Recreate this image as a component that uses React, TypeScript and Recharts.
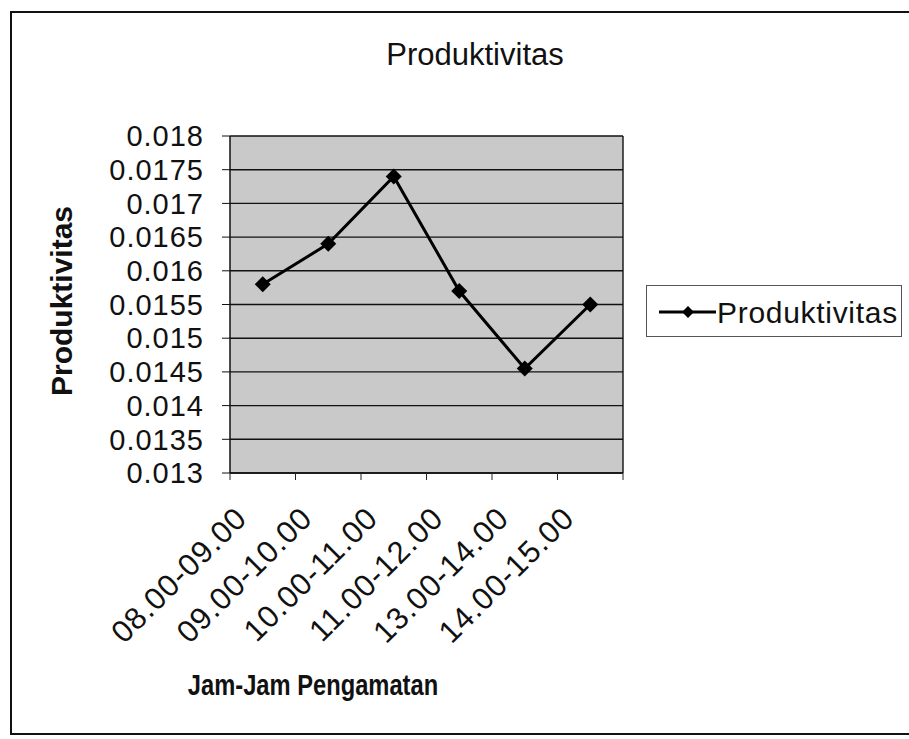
import React from 'react';
import { LineChart, Line, XAxis, YAxis, CartesianGrid } from 'recharts';

// Productivity per observation hour
const categories = ['08.00-09.00', '09.00-10.00', '10.00-11.00', '11.00-12.00', '13.00-14.00', '14.00-15.00'];
const produktivitas = [0.0158, 0.0164, 0.0174, 0.0157, 0.01455, 0.0155];
const yTicks = [0.013, 0.0135, 0.014, 0.0145, 0.015, 0.0155, 0.016, 0.0165, 0.017, 0.0175, 0.018];

const data = categories.map((jam, i) => ({ jam, value: produktivitas[i] }));

const W = 909;
const H = 739;
const PLOT_LEFT = 230;
const PLOT_RIGHT = 623;
const PLOT_TOP = 136;
const PLOT_BOTTOM = 473;
const HALF_BAND = (PLOT_RIGHT - PLOT_LEFT) / categories.length / 2;

const font = '"Liberation Sans", Arial, Helvetica, sans-serif';

const XTick = ({ x, y, payload, index }: any) => {
  const tx = x - 14;
  const ty = y + 47;
  return (
    <g>
      <line x1={x - HALF_BAND} x2={x - HALF_BAND} y1={y} y2={y + 7} stroke="#222" />
      {index === categories.length - 1 && (
        <line x1={x + HALF_BAND} x2={x + HALF_BAND} y1={y} y2={y + 7} stroke="#222" />
      )}
      <text
        x={tx}
        y={ty}
        transform={`rotate(-45, ${tx}, ${ty})`}
        textAnchor="end"
        fontSize={31}
        letterSpacing={1}
        fontFamily={font}
        fill="#111"
      >
        {payload.value}
      </text>
    </g>
  );
};

const Diamond = ({ cx, cy }: any) => (
  <polygon
    points={`${cx},${cy - 8} ${cx + 8},${cy} ${cx},${cy + 8} ${cx - 8},${cy}`}
    fill="#000"
  />
);

const App = () => {
  return (
    <div
      style={{
        position: 'absolute',
        left: 0,
        top: 0,
        width: W,
        height: H,
        overflow: 'hidden',
        background: '#fff',
        fontFamily: font,
        color: '#111',
      }}
    >
      {/* chart frame, cut off on the right like the scan */}
      <div
        style={{
          position: 'absolute',
          left: 10,
          top: 11,
          width: 899,
          height: 720,
          borderTop: '2px solid #111',
          borderLeft: '2px solid #111',
          borderBottom: '2px solid #111',
        }}
      />

      <LineChart
        width={W}
        height={H}
        data={data}
        margin={{ top: PLOT_TOP, right: W - PLOT_RIGHT, bottom: 0, left: 0 }}
        style={{ position: 'absolute', left: 0, top: 0 }}
      >
        <CartesianGrid
          horizontal={true}
          vertical={true}
          verticalPoints={[PLOT_RIGHT]}
          stroke="#111"
          strokeWidth={1.4}
          fill="#c9c9c9"
          fillOpacity={1}
        />
        <XAxis
          dataKey="jam"
          scale="band"
          height={H - PLOT_BOTTOM}
          interval={0}
          tickSize={0}
          tickMargin={0}
          tickLine={false}
          axisLine={{ stroke: '#111', strokeWidth: 1.5 }}
          tick={<XTick />}
        />
        <YAxis
          width={PLOT_LEFT}
          domain={[0.013, 0.018]}
          ticks={yTicks}
          interval={0}
          tickSize={8}
          tickMargin={18}
          axisLine={{ stroke: '#111', strokeWidth: 1.5 }}
          tickLine={{ stroke: '#111' }}
          tick={{ fontSize: 29, fill: '#111', fontFamily: font, letterSpacing: 1 }}
        />
        <Line
          type="linear"
          dataKey="value"
          stroke="#000"
          strokeWidth={3}
          dot={<Diamond />}
          activeDot={false}
          isAnimationActive={false}
        />
      </LineChart>

      {/* title */}
      <div
        style={{
          position: 'absolute',
          left: 325,
          top: 39,
          width: 300,
          textAlign: 'center',
          fontSize: 31,
          lineHeight: 1,
        }}
      >
        Produktivitas
      </div>

      {/* y axis title */}
      <div
        style={{
          position: 'absolute',
          left: -38,
          top: 286,
          width: 200,
          height: 30,
          textAlign: 'center',
          fontSize: 30,
          fontWeight: 'bold',
          lineHeight: 1,
          transform: 'rotate(-90deg)',
        }}
      >
        Produktivitas
      </div>

      {/* x axis title */}
      <div
        style={{
          position: 'absolute',
          left: 113,
          top: 670,
          width: 400,
          textAlign: 'center',
          fontSize: 30,
          fontWeight: 'bold',
          lineHeight: 1,
          transform: 'scaleX(0.79)',
        }}
      >
        Jam-Jam Pengamatan
      </div>

      {/* legend */}
      <div
        style={{
          position: 'absolute',
          left: 646,
          top: 285,
          width: 256,
          height: 52,
          border: '1px solid #555',
          boxSizing: 'border-box',
        }}
      >
        <svg width={70} height={52} style={{ position: 'absolute', left: 0, top: 0 }}>
          <line x1={12} x2={69} y1={26} y2={26} stroke="#000" strokeWidth={3} />
          <polygon points="41,20 47,26 41,32 35,26" fill="#000" />
        </svg>
        <div
          style={{
            position: 'absolute',
            left: 70,
            top: 12,
            fontSize: 30,
            lineHeight: 1,
            letterSpacing: 0.7,
            whiteSpace: 'nowrap',
          }}
        >
          Produktivitas
        </div>
      </div>
    </div>
  );
};

export default App;
